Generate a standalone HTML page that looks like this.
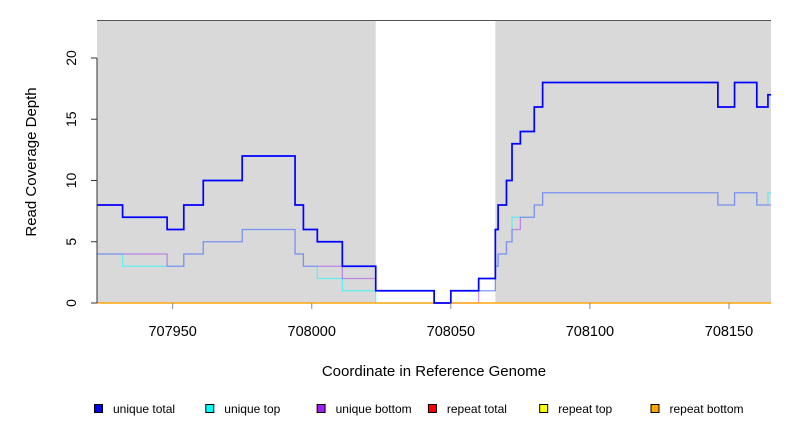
<!DOCTYPE html>
<html><head><meta charset="utf-8"><style>
body{margin:0;background:#fff}
svg{display:block;font-family:"Liberation Sans",sans-serif}
</style></head><body>
<svg id="chart" width="792" height="432" viewBox="0 0 792 432" xmlns="http://www.w3.org/2000/svg">
<g id="bg"></g>
<g id="series"></g>
<g id="axes"></g>
<g id="legend"></g>
</svg>
<script>
// data
const breaks = [707922.8,707932,707948,707954,707961,707975,707994,707997,708002,708011,708023,708044,708050,708060,708066,708067,708070,708072,708075,708080,708083,708146,708152,708160,708164];
const uniqueTotal  = [8,7,6,8,10,12,8,6,5,3,1,0,1,2,6,8,10,13,14,16,18,16,18,16,17];
const uniqueTop    = [4,3,3,4,5,6,4,3,2,1,0,0,1,1,3,4,5,7,7,8,9,8,9,8,9];
const uniqueBottom = [4,4,3,4,5,6,4,3,3,2,1,0,0,1,3,4,5,6,7,8,9,8,9,8,8];
const repeatTotal  = breaks.map(()=>0);
const repeatTop    = breaks.map(()=>0);
const repeatBottom = breaks.map(()=>0);
const shadeRegions = [[707922.8,708023],[708066,708165.1]];
const xTicks = [707950,708000,708050,708100,708150];
const yTicks = [0,5,10,15,20];
const legendLabels = ["unique total","unique top","unique bottom","repeat total","repeat top","repeat bottom"];
const legendColors = ["#0000ff","#00ffff","#a020f0","#ff0000","#ffff00","#ffa500"];

const X0=97,X1=771,XMIN=707922.8,XMAX=708165.1;
const xs=v=>X0+(v-XMIN)/(XMAX-XMIN)*(X1-X0);
const ys=v=>303-v*12.25;
const NS="http://www.w3.org/2000/svg";
function mk(tag,attrs,parent){const e=document.createElementNS(NS,tag);for(const k in attrs)e.setAttribute(k,attrs[k]);parent.appendChild(e);return e;}
const bg=document.getElementById('bg'),sg=document.getElementById('series'),ax=document.getElementById('axes'),lg=document.getElementById('legend');

mk('rect',{x:X0,y:20,width:X1-X0,height:283,fill:'#fff'},bg);
shadeRegions.forEach(r=>{
  const e=mk('rect',{x:xs(r[0]),y:20,width:xs(r[1])-xs(r[0]),height:283,fill:'#d9d9d9'},bg);
  
  
});
mk('line',{x1:X0,y1:20.5,x2:X1,y2:20.5,stroke:'#555','stroke-width':1},bg);

function step(vals,color,w,op,name){
  let d='';
  for(let i=0;i<breaks.length;i++){
    const x1=xs(breaks[i]),x2=i+1<breaks.length?xs(breaks[i+1]):X1,y=ys(vals[i]);
    d+=(i===0?'M':'L')+x1+','+y+' L'+x2+','+y+' ';
  }
  const p=mk('path',{d:d,fill:'none',stroke:color,'stroke-width':w,opacity:op},sg);
  
  
}
step(uniqueTop,'#00ffff',1.3,0.55,'unique-top-line');
step(uniqueBottom,'#a020f0',1.3,0.45,'unique-bottom-line');
step(repeatTotal,'#ff0000',1.3,0.6,'repeat-total-line');
step(repeatTop,'#ffff00',1.3,0.6,'repeat-top-line');
step(repeatBottom,'#ffa500',1.3,0.9,'repeat-bottom-line');
step(uniqueTotal,'#0000ff',1.7,1,'unique-total-line');

mk('line',{x1:X0,y1:ys(0),x2:X0,y2:ys(20),stroke:'#333','stroke-width':1},ax);
yTicks.forEach(v=>{
  mk('line',{x1:X0-6,y1:ys(v),x2:X0,y2:ys(v),stroke:'#333'},ax);
  const t=mk('text',{x:0,y:0,'font-size':14,'text-anchor':'middle',fill:'#000',transform:`translate(76,${ys(v)}) rotate(-90)`},ax);
  t.textContent=v;
  
  
});
xTicks.forEach(v=>{
  mk('line',{x1:xs(v),y1:303,x2:xs(v),y2:309,stroke:'#888'},ax);
  const t=mk('text',{x:xs(v),y:336,'font-size':14.5,'text-anchor':'middle',fill:'#000'},ax);
  t.textContent=v;
  
  
});
const xt=mk('text',{x:434,y:376,'font-size':15,'text-anchor':'middle'},ax);
xt.textContent='Coordinate in Reference Genome';


const yt=mk('text',{x:0,y:0,'font-size':15,'text-anchor':'middle',transform:'translate(36,162) rotate(-90)'},ax);
yt.textContent='Read Coverage Depth';



legendLabels.forEach((lab,i)=>{
  const x=94+i*111.3;
  const g=mk('g',{},lg);
  
  
  mk('rect',{x:x+0.5,y:404.5,width:8,height:8,fill:legendColors[i],stroke:'#000','stroke-width':1},g);
  const t=mk('text',{x:x+19,y:413,'font-size':12},g);
  t.textContent=lab;
});
</script>
</body></html>
